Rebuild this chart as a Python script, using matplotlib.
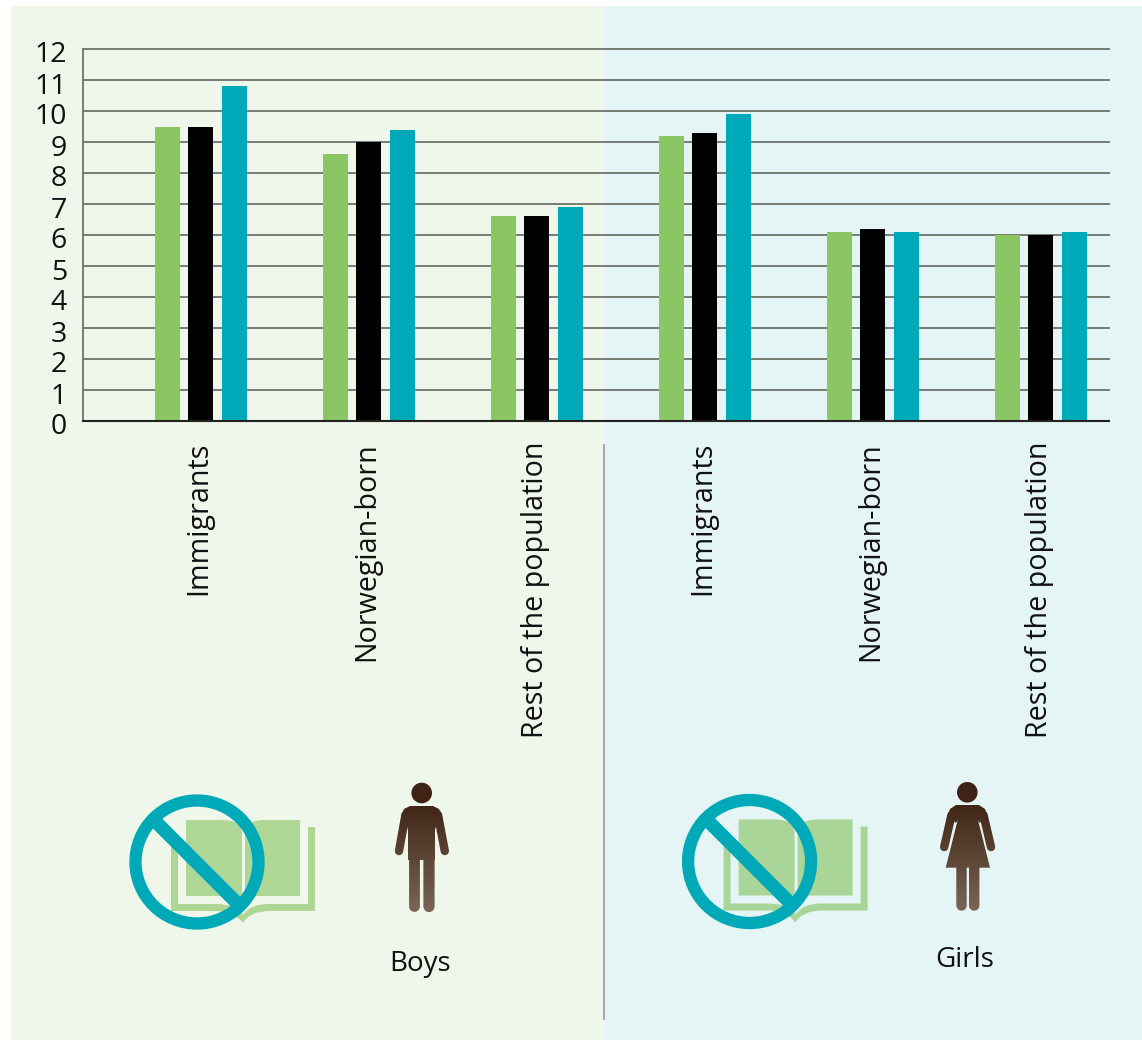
import numpy as np
import matplotlib
matplotlib.use('Agg')
import matplotlib.pyplot as plt
from matplotlib.patches import Circle, PathPatch, Polygon, Rectangle
from matplotlib.path import Path
from matplotlib.transforms import ScaledTranslation

plt.rcParams['font.family'] = ['Open Sans', 'DejaVu Sans']

W, H = 1142, 1040

categories = ['Immigrants', 'Norwegian-born', 'Rest of the population',
              'Immigrants', 'Norwegian-born', 'Rest of the population']
series_a = [9.5, 8.6, 6.6, 9.2, 6.1, 6.0]
series_b = [9.5, 9.0, 6.6, 9.3, 6.2, 6.0]
series_c = [10.8, 9.4, 6.9, 9.9, 6.1, 6.1]
y_ticks = list(range(13))

GREEN = '#8BC665'
TEAL = '#00A9B7'
LINE = '#6E7268'
BROWN_TOP = np.array([0x3F, 0x24, 0x15]) / 255
BROWN_BOTTOM = np.array([0x7A, 0x65, 0x56]) / 255

fig = plt.figure(figsize=(W / 100, H / 100), dpi=100, facecolor='white')

# background layer in pixel coordinates, panels and icons go here
bg = fig.add_axes([0, 0, 1, 1], zorder=0)
bg.set_xlim(0, W)
bg.set_ylim(H, 0)
bg.axis('off')
bg.add_patch(Rectangle((11, 6), 593, 1034, fc='#EFF6EA', ec='none'))
bg.add_patch(Rectangle((604, 6), 538, 1034, fc='#E5F4F4', ec='none'))
bg.plot([604, 604], [445, 1019], color='#A3A8A4', lw=1.4)


def capsule(x0, y0, x1, y1, r):
    a = np.arctan2(y1 - y0, x1 - x0)
    t1 = np.linspace(a - np.pi / 2, a + np.pi / 2, 12)
    t0 = t1 + np.pi
    return np.vstack([np.c_[x1 + r * np.cos(t1), y1 + r * np.sin(t1)],
                      np.c_[x0 + r * np.cos(t0), y0 + r * np.sin(t0)]])


def draw_person(parts, head):
    top, bottom = head[1] - head[2], 912
    frac = np.linspace(0, 1, 128)[:, None]
    # dark part stays until the chest, then fades
    frac = np.clip((frac - 0.15) / 0.85, 0, 1)
    grad = (BROWN_TOP + (BROWN_BOTTOM - BROWN_TOP) * frac)[:, None, :]
    xs = [p[:, 0] for p in parts]
    left, right = min(x.min() for x in xs) - 1, max(x.max() for x in xs) + 1
    for p in parts:
        im = bg.imshow(grad, extent=(left, right, bottom, top), aspect='auto', zorder=4)
        im.set_clip_path(Polygon(p, closed=True, transform=bg.transData))
    bg.add_patch(Circle(head[:2], head[2], fc=BROWN_TOP, ec='none', zorder=4))
    bg.set_xlim(0, W)
    bg.set_ylim(H, 0)


def draw_book(dx, dy, color):
    M, L, C, Z = Path.MOVETO, Path.LINETO, Path.CURVE3, Path.CLOSEPOLY
    shapes = [
        # left page
        ([(186, 820), (222, 820), (242, 820), (242, 834), (242, 896), (186, 896), (186, 820)],
         [M, L, C, C, L, L, Z]),
        # right page
        ([(245, 834), (245, 820), (265, 820), (300, 820), (300, 896), (262, 896), (245, 896), (245, 902), (245, 834)],
         [M, C, C, L, L, L, C, C, Z]),
        # cover
        ([(171, 840), (178, 847), (178, 904), (215, 904), (238, 904), (243, 915),
          (250, 904), (268, 904), (308, 904), (308, 827), (315, 827), (315, 911),
          (270, 911), (250, 911), (243, 923), (234, 911), (215, 911), (171, 911), (171, 840)],
         [M, L, L, L, C, C, C, C, L, L, L, L, L, C, C, C, C, L, Z]),
    ]
    for verts, codes in shapes:
        verts = np.array(verts, dtype=float) + [dx, dy]
        bg.add_patch(PathPatch(Path(verts, codes), fc=color, ec='none', zorder=2))
    # forbidden sign
    bg.add_patch(Circle((197 + dx, 862 + dy), 61.5, fc='none', ec=TEAL, lw=12.3 * 0.72, zorder=3))
    bg.plot([153 + dx, 240 + dx], [819 + dy, 906 + dy], color=TEAL, lw=13.5 * 0.72,
            solid_capstyle='butt', zorder=3)


draw_book(0, 0, '#AED694')
draw_book(552.6, -0.5, '#A9D698')

boy_parts = [
    np.array([(401.5, 815), (404, 809), (410, 806), (433, 806), (439, 809), (442, 815),
              (437, 823), (435, 830), (435, 860), (408, 860), (408, 830), (406, 823)], dtype=float),
    capsule(405.5, 815, 399, 851, 4.2),
    capsule(438, 815, 444.8, 851, 4.2),
    capsule(414.5, 855, 414.5, 906.5, 5.4),
    capsule(429, 855, 429, 906.5, 5.6),
]
draw_person(boy_parts, (421.7, 793, 10.3))

girl_parts = [
    np.array([(947.5, 816), (950, 809), (956, 805), (979, 805), (985, 809), (987.5, 816),
              (979.5, 823), (978, 820), (990, 867.7), (945.7, 867.7), (957.7, 820), (956, 823)], dtype=float),
    capsule(951.5, 815, 944.2, 847, 4.2),
    capsule(983.5, 815, 991, 847, 4.2),
    capsule(961.5, 865, 961.5, 905.5, 5.2),
    capsule(974.2, 865, 974.2, 905.5, 5.2),
]
draw_person(girl_parts, (967.3, 792.3, 10.3))

bg.text(420, 964, 'Boys', fontsize=20, ha='center', va='center', color='#111111')
bg.text(965, 960, 'Girls', fontsize=20, ha='center', va='center', color='#111111')

# chart, placed by pixels
ax_l, ax_r, ax_t, ax_b = 83, 1109, 49, 421
ax = fig.add_axes([ax_l / W, 1 - ax_b / H, (ax_r - ax_l) / W, (ax_b - ax_t) / H], zorder=1)
ax.patch.set_alpha(0)

STEP = 168
x = np.arange(len(categories))
bar_w = 25 / STEP
off = 33.5 / STEP
ax.bar(x - off, series_a, bar_w, color=GREEN, zorder=3)
ax.bar(x - 0.5 / STEP, series_b, bar_w, color='black', zorder=3)
ax.bar(x + off, series_c, bar_w, color=TEAL, zorder=3)

ax.set_xlim((ax_l - 201) / STEP, (ax_r - 201) / STEP)
ax.set_ylim(0, 12)
ax.set_yticks(y_ticks)
ax.set_xticks(x)
ax.set_xticklabels(categories, rotation=90, ha='center', va='top', fontsize=20.6, color='#111111')
ax.tick_params(axis='x', length=0, pad=15)
ax.tick_params(axis='y', length=0, pad=11.5, labelsize=20.5, labelcolor='#111111')
ax.grid(axis='y', color=LINE, lw=1.3, zorder=1)
for g in ax.get_ygridlines():
    g.set_clip_on(False)
ax.set_axisbelow(True)
for s in ['top', 'right']:
    ax.spines[s].set_visible(False)
ax.spines['left'].set_color(LINE)
ax.spines['left'].set_linewidth(1.3)
ax.spines['bottom'].set_color('#222222')
ax.spines['bottom'].set_linewidth(1.5)
ax.spines['bottom'].set_zorder(5)

# the labels sit a bit off their ticks in the original
shift_y = ScaledTranslation(0, -3 / 100, fig.dpi_scale_trans)
for lab in ax.get_yticklabels():
    lab.set_transform(lab.get_transform() + shift_y)
shift_x = ScaledTranslation(-2 / 100, 0, fig.dpi_scale_trans)
for lab in ax.get_xticklabels():
    lab.set_transform(lab.get_transform() + shift_x)

fig.savefig('out.png', dpi=100)
